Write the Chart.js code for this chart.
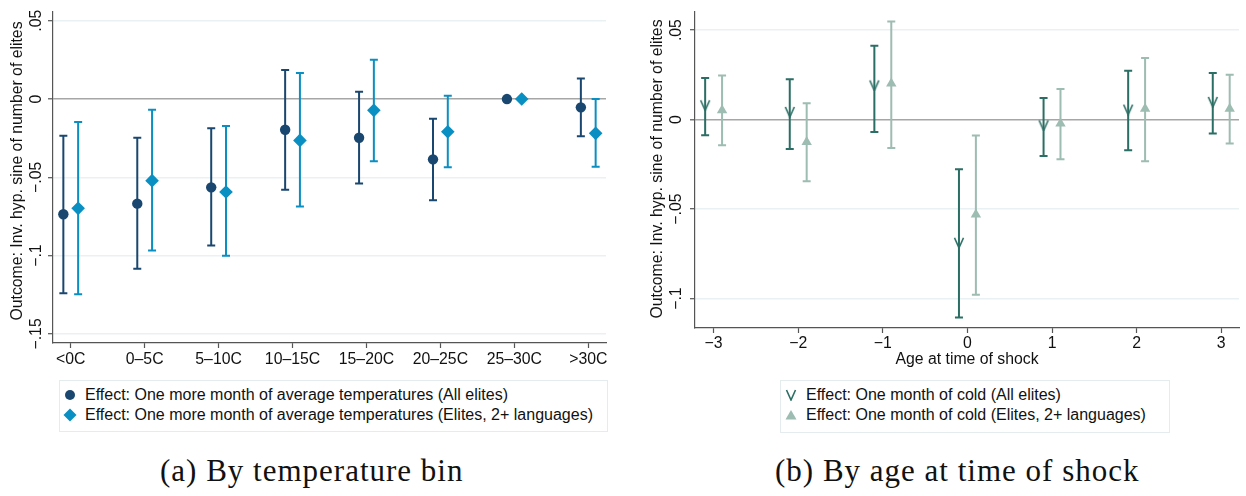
<!DOCTYPE html>
<html>
<head>
<meta charset="utf-8">
<script src="https://cdn.jsdelivr.net/npm/chart.js@4"></script>
<style>
  body { margin: 0; background: #fff; width: 1246px; height: 496px; position: relative; overflow: hidden; font-family: "Liberation Sans", Arial, sans-serif; }
  .panel { position: absolute; top: 0; }
  .legend { position: absolute; border: 1px solid #e4ecee; box-sizing: border-box; font-size: 16px; color: #111; }
  .legend .item { position: absolute; left: 0; height: 20px; line-height: 20px; white-space: nowrap; }
  .legend canvas { position: absolute; top: 3px; }
  .legend span { position: absolute; }
  .caption { position: absolute; top: 453px; font-family: "Liberation Serif", "Times New Roman", serif; font-size: 31px; letter-spacing: 1px; color: #111; text-align: center; white-space: nowrap; }
</style>
</head>
<body>
<div class="panel" style="left:0;width:620px;height:370px;"><canvas id="leftChart" width="620" height="370"></canvas></div>
<div class="panel" style="left:640px;width:606px;height:370px;"><canvas id="rightChart" width="606" height="370"></canvas></div>

<div class="legend" style="left:59px;top:380px;width:549px;height:52px;">
  <div class="item" style="top:4px;"><canvas id="lgA1" width="14" height="14" style="left:3px;"></canvas><span style="left:25px;">Effect: One more month of average temperatures (All elites)</span></div>
  <div class="item" style="top:24px;"><canvas id="lgA2" width="14" height="14" style="left:3px;"></canvas><span style="left:25px;">Effect: One more month of average temperatures (Elites, 2+ languages)</span></div>
</div>
<div class="legend" style="left:780px;top:380px;width:390px;height:53px;">
  <div class="item" style="top:4px;"><canvas id="lgB1" width="14" height="14" style="left:3px;"></canvas><span style="left:25px;">Effect: One month of cold (All elites)</span></div>
  <div class="item" style="top:24px;"><canvas id="lgB2" width="14" height="14" style="left:3px;"></canvas><span style="left:25px;">Effect: One month of cold (Elites, 2+ languages)</span></div>
</div>

<div class="caption" style="left:160px;width:300px;">(a) By temperature bin</div>
<div class="caption" style="left:775px;width:350px;">(b) By age at time of shock</div>

<script>
// ---- panel (a): temperature bins ----
const tempBins = ["<0C", "0\u20135C", "5\u201310C", "10\u201315C", "15\u201320C", "20\u201325C", "25\u201330C", ">30C"];
const allElites = [-0.0736, -0.0668, -0.0564, -0.0196, -0.0247, -0.0385, 0, -0.0053];
const allElitesLo = [-0.124, -0.1083, -0.0936, -0.0579, -0.054, -0.0647, null, -0.0238];
const allElitesHi = [-0.0234, -0.0247, -0.0187, 0.0185, 0.0047, -0.0126, null, 0.0132];
const multiLang = [-0.0698, -0.0521, -0.0594, -0.0264, -0.0072, -0.0209, 0, -0.0219];
const multiLangLo = [-0.1247, -0.0968, -0.1, -0.0687, -0.0398, -0.0436, null, -0.0432];
const multiLangHi = [-0.0147, -0.0068, -0.0172, 0.0166, 0.0251, 0.0021, null, 0];
const yTicksA = [-0.15, -0.1, -0.05, 0, 0.05];
const yLabelsA = ["\u2212.15", "\u2212.1", "\u2212.05", "0", ".05"];

// ---- panel (b): age at time of shock ----
const ages = [-3, -2, -1, 0, 1, 2, 3];
const ageLabels = ["\u22123", "\u22122", "\u22121", "0", "1", "2", "3"];
const coldAll = [0.008, 0.0043, 0.0191, -0.0688, -0.0032, 0.0056, 0.0099];
const coldAllLo = [-0.0087, -0.0164, -0.0069, -0.1106, -0.0203, -0.0171, -0.0078];
const coldAllHi = [0.0232, 0.0225, 0.0413, -0.0277, 0.0121, 0.0273, 0.026];
const coldMulti = [0.0052, -0.0125, 0.0201, -0.053, -0.0022, 0.0061, 0.0061];
const coldMultiLo = [-0.0143, -0.0344, -0.0158, -0.0978, -0.0221, -0.0232, -0.0134];
const coldMultiHi = [0.0247, 0.0091, 0.0548, -0.0089, 0.0171, 0.0344, 0.0251];
const yTicksB = [-0.1, -0.05, 0, 0.05];
const yLabelsB = ["\u2212.1", "\u2212.05", "0", ".05"];

const yTitle = "Outcome: Inv. hyp. sine of number of elites";

const navy = "#1a476f";
const ebblue = "#0a8fc2";
const teal = "#2b6e64";
const sage = "#9dbcb2";
const axisColor = "#555555";
const gridColor = "#eaf1f3";
const zeroColor = "#a6a6a6";
const font = "Liberation Sans";
const fontSize = 15.8;

// open "v" marker used by Stata's smv symbol
function makeVee(color) {
  const c = document.createElement("canvas");
  c.width = 12; c.height = 12;
  const g = c.getContext("2d");
  g.strokeStyle = color;
  g.lineWidth = 1.6;
  g.beginPath();
  g.moveTo(1.5, 1);
  g.lineTo(6, 11);
  g.lineTo(10.5, 1);
  g.stroke();
  return c;
}
const vee = makeVee(teal);

// error bars + rotated y labels + titles
const stataPlugin = {
  id: "stata",
  beforeDatasetsDraw(chart) {
    const ctx = chart.ctx;
    const ys = chart.scales.y;
    chart.data.datasets.forEach((ds, i) => {
      const meta = chart.getDatasetMeta(i);
      ctx.save();
      ctx.strokeStyle = ds.barColor;
      ctx.lineWidth = 2;
      meta.data.forEach((el, j) => {
        const lo = ds.lo[j], hi = ds.hi[j];
        if (lo === null || hi === null) return;
        const x = el.x;
        const y1 = ys.getPixelForValue(lo);
        const y2 = ys.getPixelForValue(hi);
        ctx.beginPath();
        ctx.moveTo(x, y1); ctx.lineTo(x, y2);
        ctx.moveTo(x - 4, y1); ctx.lineTo(x + 4, y1);
        ctx.moveTo(x - 4, y2); ctx.lineTo(x + 4, y2);
        ctx.stroke();
      });
      ctx.restore();
    });
  },
  afterDraw(chart, args, opts) {
    const ctx = chart.ctx;
    const ys = chart.scales.y;
    ctx.save();
    ctx.fillStyle = "#111";
    ctx.font = fontSize + "px '" + font + "'";
    ctx.textAlign = "center";
    ctx.textBaseline = "middle";
    opts.ticks.forEach((v, k) => {
      const y = ys.getPixelForValue(v);
      ctx.save();
      ctx.translate(opts.tickX, y);
      ctx.rotate(-Math.PI / 2);
      ctx.fillText(opts.labels[k], 0, 0);
      ctx.restore();
    });
    ctx.save();
    ctx.translate(opts.titleX, opts.titleY);
    ctx.rotate(-Math.PI / 2);
    ctx.fillText(yTitle, 0, 0);
    ctx.restore();
    if (opts.xTitle) {
      const a = chart.chartArea;
      ctx.fillText(opts.xTitle, (a.left + a.right) / 2, a.bottom + 32);
    }
    ctx.restore();
  }
};

function makeOptions(cfg) {
  return {
    responsive: false,
    animation: false,
    events: [],
    layout: { padding: cfg.padding },
    plugins: {
      legend: { display: false },
      tooltip: { enabled: false },
      stata: cfg.stata
    },
    scales: {
      x: {
        type: "linear",
        min: cfg.xMin,
        max: cfg.xMax,
        afterBuildTicks: (s) => { s.ticks = cfg.xTicks.map((v) => ({ value: v })); },
        afterFit: (s) => { s.height = cfg.xHeight; },
        ticks: {
          callback: (v) => cfg.xLabels[cfg.xTicks.indexOf(v)],
          color: "#111",
          font: { family: font, size: fontSize },
          padding: cfg.xPad,
          maxRotation: 0,
          autoSkip: false
        },
        grid: { drawOnChartArea: false, drawTicks: true, tickLength: 5, tickColor: axisColor, tickWidth: 1.2 },
        border: { color: axisColor, width: 1.2 }
      },
      y: {
        min: cfg.yMin,
        max: cfg.yMax,
        afterBuildTicks: (s) => { s.ticks = cfg.stata.ticks.map((v) => ({ value: v })); },
        afterFit: (s) => { s.width = cfg.yWidth; },
        ticks: { display: false },
        grid: {
          color: (c) => (c.tick && c.tick.value === 0 ? zeroColor : gridColor),
          lineWidth: (c) => (c.tick && c.tick.value === 0 ? 1.6 : 1.4),
          drawTicks: true,
          tickLength: 5,
          tickColor: axisColor,
          tickWidth: 1.2
        },
        border: { color: axisColor, width: 1.2 }
      }
    }
  };
}

function pts(xs, ys, shift) {
  return ys.map((v, i) => ({ x: xs[i] + shift, y: v }));
}

const binIdx = tempBins.map((b, i) => i);

new Chart(document.getElementById("leftChart").getContext("2d"), {
  type: "scatter",
  data: {
    datasets: [
      {
        label: "Effect: One more month of average temperatures (All elites)",
        data: pts(binIdx, allElites, -0.1),
        lo: allElitesLo, hi: allElitesHi, barColor: navy,
        pointStyle: "circle", pointRadius: 5.2,
        backgroundColor: navy, borderColor: navy, borderWidth: 0
      },
      {
        label: "Effect: One more month of average temperatures (Elites, 2+ languages)",
        data: pts(binIdx, multiLang, 0.1),
        lo: multiLangLo, hi: multiLangHi, barColor: ebblue,
        pointStyle: "rectRot", pointRadius: 6.8,
        backgroundColor: ebblue, borderColor: ebblue, borderWidth: 0
      }
    ]
  },
  options: makeOptions({
    padding: { left: 0, right: 14, top: 12, bottom: 0 },
    xMin: -0.24, xMax: 7.24, xTicks: binIdx, xLabels: tempBins, xHeight: 27, xPad: 2,
    yMin: -0.1558, yMax: 0.0556, yWidth: 53,
    stata: { ticks: yTicksA, labels: yLabelsA, tickX: 37, titleX: 18, titleY: 171 }
  }),
  plugins: [stataPlugin]
});

new Chart(document.getElementById("rightChart").getContext("2d"), {
  type: "scatter",
  data: {
    datasets: [
      {
        label: "Effect: One month of cold (All elites)",
        data: pts(ages, coldAll, -0.1),
        lo: coldAllLo, hi: coldAllHi, barColor: teal,
        pointStyle: vee, pointRadius: 6,
        backgroundColor: teal, borderColor: teal
      },
      {
        label: "Effect: One month of cold (Elites, 2+ languages)",
        data: pts(ages, coldMulti, 0.1),
        lo: coldMultiLo, hi: coldMultiHi, barColor: sage,
        pointStyle: "triangle", pointRadius: 6,
        backgroundColor: sage, borderColor: sage, borderWidth: 0
      }
    ]
  },
  options: makeOptions({
    padding: { left: 0, right: 0, top: 12, bottom: 0 },
    xMin: -3.22, xMax: 3.21, xTicks: ages, xLabels: ageLabels, xHeight: 42, xPad: 1,
    yMin: -0.1164, yMax: 0.0601, yWidth: 55,
    stata: { ticks: yTicksB, labels: yLabelsB, tickX: 37, titleX: 18, titleY: 169, xTitle: "Age at time of shock" }
  }),
  plugins: [stataPlugin]
});

// legend symbols
function legendMark(id, kind, color) {
  const g = document.getElementById(id).getContext("2d");
  g.fillStyle = color;
  g.strokeStyle = color;
  g.beginPath();
  if (kind === "circle") {
    g.arc(7, 7, 5, 0, Math.PI * 2);
    g.fill();
  } else if (kind === "diamond") {
    g.moveTo(7, 0.5); g.lineTo(13.5, 7); g.lineTo(7, 13.5); g.lineTo(0.5, 7);
    g.closePath(); g.fill();
  } else if (kind === "vee") {
    g.drawImage(makeVee(color), 1, 1);
  } else {
    g.moveTo(7, 2); g.lineTo(12.5, 11.5); g.lineTo(1.5, 11.5);
    g.closePath(); g.fill();
  }
}
legendMark("lgA1", "circle", navy);
legendMark("lgA2", "diamond", ebblue);
legendMark("lgB1", "vee", teal);
legendMark("lgB2", "triangle", sage);
</script>
</body>
</html>
